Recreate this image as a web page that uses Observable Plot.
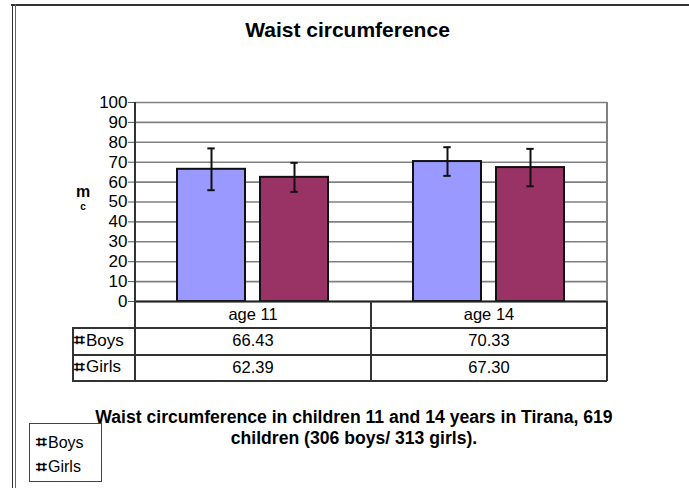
<!DOCTYPE html>
<html><head><meta charset="utf-8">
<script src="https://cdn.jsdelivr.net/npm/d3@7"></script>
<script src="https://cdn.jsdelivr.net/npm/@observablehq/plot@0.6"></script>
<style>
body{margin:0;background:#fff;font-family:"Liberation Sans",Arial,sans-serif;color:#000;}
#root{position:relative;width:689px;height:488px;overflow:hidden;background:#fff;}
.abs{position:absolute;}
.cell{position:absolute;display:flex;align-items:center;justify-content:center;font-size:16.5px;white-space:nowrap;}
.mk{font-family:"DejaVu Sans",sans-serif;font-weight:bold;font-size:19px;line-height:1;margin-right:1px;position:relative;top:-1px;}
</style></head><body><div id="root"></div>
<script>
// ---- data ----
const ages = ["age 11", "age 14"];
const sexes = ["Boys", "Girls"];
const boysMean = [66.43, 70.33];
const girlsMean = [62.39, 67.30];
const boysSD = [10.5, 7.2];
const girlsSD = [7.3, 9.4];
const yTicks = [0, 10, 20, 30, 40, 50, 60, 70, 80, 90, 100];
const colors = ["#9999FF", "#993366"];
const titleText = "Waist circumference";
const captionLines = ["Waist circumference in children 11 and 14 years in Tirana, 619", "children (306 boys/ 313 girls)."];
const marker = "\u2317";

const data = ages.flatMap((a, i) => [
  {age: a, sex: sexes[0], value: boysMean[i], sd: boysSD[i]},
  {age: a, sex: sexes[1], value: girlsMean[i], sd: girlsSD[i]}
]);

const root = document.getElementById("root");
const W = 689;

const plot = Plot.plot({
  width: W, height: 310,
  marginLeft: 135, marginRight: 82, marginTop: 102, marginBottom: 9,
  style: {fontFamily: "'Liberation Sans', Arial, sans-serif", fontSize: "17px", color: "#000", background: "transparent"},
  fx: {domain: ages, padding: 0, axis: null, label: null},
  x: {domain: sexes, paddingInner: 0.179, paddingOuter: 0.5, axis: null, label: null},
  y: {domain: [0, 100], axis: null, label: null},
  color: {domain: sexes, range: colors},
  marks: [
    Plot.gridY(yTicks, {stroke: "#808080", strokeOpacity: 1, strokeWidth: 1.6}),
    Plot.axisY(yTicks, {tickSize: 7, tickPadding: 1, stroke: "#555", fontSize: 17, fill: "#000", label: null}),
    Plot.barY(data, {fx: "age", x: "sex", y: "value", fill: "sex", stroke: "#111", strokeWidth: 2}),
    Plot.ruleX(data, {fx: "age", x: "sex", y1: d => d.value - d.sd, y2: d => d.value + d.sd, stroke: "#111", strokeWidth: 2}),
    Plot.tickY(data, {fx: "age", x: "sex", y: d => d.value + d.sd, stroke: "#111", strokeWidth: 2, insetLeft: 30.3, insetRight: 30.3}),
    Plot.tickY(data, {fx: "age", x: "sex", y: d => d.value - d.sd, stroke: "#111", strokeWidth: 2, insetLeft: 30.3, insetRight: 30.3}),
    Plot.ruleY([0], {stroke: "#222", strokeWidth: 2})
  ]
});
plot.style.position = "absolute";
plot.style.left = "0px";
plot.style.top = "0px";
root.appendChild(plot);

const fx = plot.scale("fx");
const ys = plot.scale("y");
const left = fx.apply(ages[0]);
const mid = fx.apply(ages[1]);
const right = mid + fx.bandwidth;
const yTop = ys.apply(100);
const y0 = ys.apply(0);

function line(x, y, w, h, c) {
  const d = document.createElement("div");
  d.className = "abs";
  Object.assign(d.style, {left: x + "px", top: y + "px", width: w + "px", height: h + "px", background: c});
  root.appendChild(d);
}
function cell(x, y, w, h, text, extra) {
  const d = document.createElement("div");
  d.className = "cell";
  Object.assign(d.style, {left: x + "px", top: y + "px", width: w + "px", height: h + "px"}, extra || {});
  d.textContent = text;
  root.appendChild(d);
  return d;
}
function keyCell(x, y, w, h, label, extra) {
  const d = cell(x, y, w, h, "", Object.assign({justifyContent: "flex-start"}, extra || {}));
  const m = document.createElement("span");
  m.className = "mk";
  m.textContent = marker;
  const t = document.createElement("span");
  t.textContent = label;
  d.appendChild(m);
  d.appendChild(t);
  return d;
}

// outer frame
line(11, 4, W - 11, 2, "#333");
line(11.5, 4, 1.5, 488, "#333");
line(14.5, 4, 1, 488, "#666");

// plot border right & axis line
line(right - 1, yTop, 1.6, y0 - yTop, "#808080");
line(left - 1, yTop, 1.8, 381 - yTop, "#333");

// table
const rowH = [27, 27, 26];
const r1 = y0 + rowH[0], r2 = r1 + rowH[1], r3 = r2 + rowH[2];
const tx = 72;
line(tx, r1 - 1, right - tx, 1.6, "#333");
line(tx, r2 - 1, right - tx, 1.6, "#333");
line(tx, r3 - 1, right - tx, 1.6, "#333");
line(tx, r1 - 1, 1.6, r3 - r1, "#333");
line(mid - 1, y0, 1.6, r3 - y0, "#333");
line(right - 1, y0, 1.6, r3 - y0, "#333");
ages.forEach((a, i) => {
  const x = fx.apply(a);
  cell(x, y0 + 1, fx.bandwidth, rowH[0] - 2, a);
  cell(x, r1, fx.bandwidth, rowH[1] - 2, boysMean[i].toFixed(2));
  cell(x, r2, fx.bandwidth, rowH[2] - 2, girlsMean[i].toFixed(2));
});
keyCell(tx + 2, r1, left - tx - 2, rowH[1] - 2, sexes[0], {fontSize: "17px"});
keyCell(tx + 2, r2, left - tx - 2, rowH[2] - 2, sexes[1], {fontSize: "17px"});

// y label
cell(70, 184, 26, 16, "m", {fontWeight: "bold", fontSize: "16px"});
cell(70, 200, 26, 12, "c", {fontWeight: "bold", fontSize: "10px"});

// title
cell(0, 17, W, 26, titleText, {fontWeight: "bold", fontSize: "21px", left: "0px", width: "695px"});

// legend
const lg = document.createElement("div");
lg.className = "abs";
Object.assign(lg.style, {left: "29px", top: "423px", width: "71px", height: "57px", border: "1.5px solid #444", background: "#fff"});
root.appendChild(lg);
keyCell(36, 430, 64, 22, sexes[0], {fontSize: "16px", alignItems: "flex-end"});
keyCell(36, 456, 64, 22, sexes[1], {fontSize: "16px"});

// caption
captionLines.forEach((t, i) => {
  cell(0, 407 + i * 21, 708, 21, t, {fontWeight: "bold", fontSize: "17.6px"});
});
</script></body></html>
